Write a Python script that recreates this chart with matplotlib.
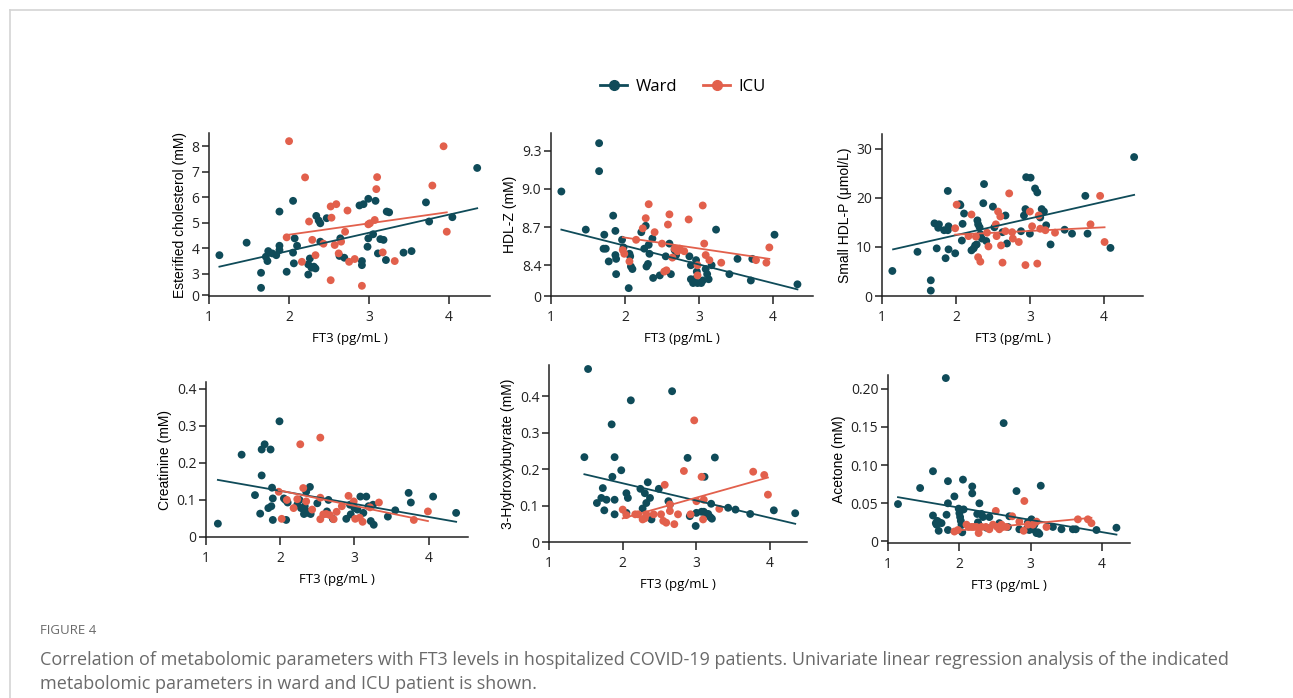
import numpy as np
import matplotlib

matplotlib.use("Agg")
import matplotlib.pyplot as plt
from matplotlib.lines import Line2D

W, H = 1293, 698
WARD_COLOR = "#0f4b59"
ICU_COLOR = "#e2604c"
TICK_FONT = "Open Sans"
LABEL_FONT = "Liberation Sans"

# ---- Esterified cholesterol (mM) ----
ec_ward_x = [1.13, 1.47, 1.65, 1.65, 1.71, 1.73, 1.74, 1.79, 1.84, 1.88, 1.88, 1.88, 1.97, 2.05, 2.05,
             2.06, 2.07, 2.10, 2.24, 2.24, 2.26, 2.28, 2.31, 2.33, 2.34, 2.37, 2.39, 2.39, 2.47, 2.63,
             2.64, 2.69, 2.88, 2.93, 2.99, 2.91, 2.91, 2.98, 2.99, 3.05, 3.08, 3.11, 3.14, 3.18, 3.21,
             3.22, 3.25, 3.43, 3.53, 3.71, 3.75, 4.04, 4.35]
ec_ward_y = [3.73, 4.22, 3.04, 2.45, 3.67, 3.50, 3.89, 3.80, 3.73, 5.44, 4.10, 3.93, 3.08, 5.86, 3.83,
             3.41, 4.39, 4.10, 3.37, 2.97, 3.60, 3.24, 3.28, 3.21, 5.27, 5.09, 4.98, 4.26, 5.18, 3.70,
             4.39, 3.63, 5.68, 5.73, 5.94, 3.50, 3.34, 4.06, 4.39, 4.55, 5.86, 3.80, 4.36, 4.33, 3.54,
             5.44, 5.41, 3.83, 3.89, 5.80, 5.05, 5.22, 7.15]
ec_icu_x = [1.97, 2.00, 2.16, 2.20, 2.25, 2.29, 2.33, 2.43, 2.52, 2.52, 2.53, 2.57, 2.59, 2.62, 2.65,
            2.70, 2.73, 2.75, 2.82, 2.91, 2.99, 3.01, 3.07, 3.09, 3.10, 3.17, 3.32, 3.79, 3.93, 3.97]
ec_icu_y = [4.43, 8.20, 3.47, 6.78, 5.05, 4.33, 3.73, 4.18, 2.75, 5.64, 5.20, 4.13, 5.73, 3.80, 4.26,
            4.65, 5.48, 3.47, 3.58, 2.53, 4.94, 4.98, 5.11, 6.32, 6.79, 3.84, 3.50, 6.46, 8.00, 4.65]
ec_ward_fit = ([1.13, 4.35], [3.28, 5.57])
ec_icu_fit = ([1.97, 3.97], [4.52, 5.41])

# ---- HDL-Z (mM) ----
hz_ward_x = [1.14, 1.47, 1.65, 1.65, 1.72, 1.71, 1.74, 1.78, 1.84, 1.87, 1.87, 1.88, 1.88, 1.96, 1.98,
             2.05, 2.06, 2.07, 2.08, 2.10, 2.22, 2.26, 2.28, 2.29, 2.31, 2.32, 2.33, 2.37, 2.38, 2.47,
             2.55, 2.60, 2.62, 2.67, 2.69, 2.87, 2.89, 2.89, 2.92, 2.94, 2.96, 2.97, 2.98, 3.03, 3.05,
             3.09, 3.11, 3.13, 3.17, 3.23, 3.41, 3.52, 3.70, 3.72, 4.02, 4.33]
hz_ward_y = [8.98, 8.68, 9.36, 9.14, 8.64, 8.53, 8.53, 8.43, 8.79, 8.67, 8.48, 8.45, 8.33, 8.60, 8.54,
             8.22, 8.49, 8.47, 8.39, 8.37, 8.66, 8.53, 8.71, 8.39, 8.41, 8.56, 8.49, 8.61, 8.30, 8.32,
             8.47, 8.57, 8.33, 8.52, 8.48, 8.47, 8.40, 8.29, 8.26, 8.29, 8.44, 8.35, 8.26, 8.26, 8.28,
             8.37, 8.33, 8.29, 8.40, 8.68, 8.33, 8.45, 8.28, 8.45, 8.64, 8.25]
hz_icu_x = [1.97, 1.99, 2.06, 2.15, 2.24, 2.28, 2.32, 2.40, 2.50, 2.53, 2.56, 2.58, 2.60, 2.64, 2.67,
            2.71, 2.74, 2.80, 2.86, 2.98, 2.98, 3.05, 3.07, 3.09, 3.14, 3.30, 3.77, 3.91, 3.95]
hz_icu_y = [8.52, 8.49, 8.43, 8.60, 8.69, 8.77, 8.88, 8.66, 8.57, 8.35, 8.36, 8.72, 8.80, 8.46, 8.53,
            8.51, 8.53, 8.51, 8.76, 8.32, 8.40, 8.87, 8.57, 8.48, 8.44, 8.42, 8.44, 8.42, 8.54]
hz_ward_fit = ([1.14, 4.33], [8.68, 8.21])
hz_icu_fit = ([1.97, 3.95], [8.62, 8.45])

# ---- Small HDL-P (umol/L) ----
sh_ward_x = [1.14, 1.48, 1.66, 1.66, 1.71, 1.74, 1.76, 1.77, 1.84, 1.86, 1.89, 1.89, 1.90, 1.90, 1.99,
             2.05, 2.06, 2.08, 2.09, 2.11, 2.21, 2.24, 2.26, 2.28, 2.29, 2.30, 2.32, 2.33, 2.35, 2.37,
             2.38, 2.41, 2.50, 2.52, 2.63, 2.67, 2.69, 2.88, 2.92, 2.94, 2.95, 3.00, 3.01, 3.07, 3.10,
             3.14, 3.16, 3.19, 3.22, 3.28, 3.47, 3.57, 3.75, 3.78, 4.09, 4.41]
sh_ward_y = [5.1, 9.0, 3.2, 1.1, 14.8, 9.7, 13.9, 14.6, 13.4, 7.7, 21.4, 13.4, 14.2, 9.5, 8.7,
             18.7, 18.5, 11.3, 14.7, 16.8, 9.3, 9.7, 10.3, 10.5, 15.4, 14.6, 14.0, 12.6, 11.7, 18.9,
             22.8, 11.2, 18.2, 14.0, 13.0, 16.4, 10.7, 13.2, 16.4, 17.7, 24.2, 12.7, 24.1, 21.9, 21.1,
             16.0, 17.7, 17.2, 14.4, 10.5, 13.5, 12.7, 20.4, 12.7, 9.8, 28.3]
sh_icu_x = [1.99, 2.01, 2.17, 2.21, 2.27, 2.30, 2.33, 2.42, 2.44, 2.54, 2.55, 2.57, 2.60, 2.61, 2.63,
            2.67, 2.72, 2.76, 2.77, 2.85, 2.94, 3.00, 3.03, 3.10, 3.12, 3.14, 3.21, 3.34, 3.82, 3.95, 4.01]
sh_icu_y = [13.8, 18.6, 12.2, 16.6, 12.1, 7.9, 7.0, 12.9, 10.1, 14.6, 12.2, 17.2, 16.2, 10.3, 6.8,
            13.2, 20.9, 13.0, 11.7, 11.0, 6.3, 17.2, 14.2, 6.6, 16.4, 13.7, 13.4, 12.9, 14.6, 20.4, 11.0]
sh_ward_fit = ([1.15, 4.41], [9.5, 20.6])
sh_icu_fit = ([1.99, 4.01], [12.5, 14.0])

# ---- Creatinine (mM) ----
cr_ward_x = [1.16, 1.48, 1.66, 1.73, 1.75, 1.75, 1.79, 1.87, 1.89, 1.90, 1.90, 1.84, 1.88, 1.99, 2.05,
             2.07, 2.08, 2.10, 2.23, 2.26, 2.28, 2.32, 2.33, 2.35, 2.36, 2.38, 2.40, 2.41, 2.50, 2.63,
             2.65, 2.71, 2.89, 2.94, 2.95, 3.00, 3.04, 3.08, 3.12, 3.16, 3.19, 3.22, 3.26, 3.25, 3.45,
             3.55, 3.73, 3.76, 4.06, 4.37]
cr_ward_y = [0.036, 0.222, 0.113, 0.063, 0.236, 0.166, 0.250, 0.236, 0.133, 0.104, 0.046, 0.078, 0.083,
             0.312, 0.104, 0.100, 0.046, 0.093, 0.087, 0.100, 0.078, 0.062, 0.083, 0.122, 0.069, 0.065,
             0.135, 0.062, 0.091, 0.069, 0.100, 0.049, 0.049, 0.087, 0.061, 0.078, 0.074, 0.109, 0.065,
             0.109, 0.083, 0.043, 0.033, 0.087, 0.055, 0.072, 0.119, 0.093, 0.109, 0.065]
cr_icu_x = [1.98, 2.02, 2.09, 2.18, 2.23, 2.31, 2.35, 2.43, 2.54, 2.54, 2.58, 2.62, 2.67, 2.72, 2.76,
            2.83, 2.92, 2.99, 3.01, 3.07, 3.11, 3.21, 3.33, 3.80, 3.99, 2.27, 2.54]
cr_icu_y = [0.122, 0.049, 0.100, 0.078, 0.102, 0.132, 0.096, 0.074, 0.106, 0.048, 0.061, 0.062, 0.059,
            0.048, 0.068, 0.083, 0.111, 0.096, 0.049, 0.052, 0.041, 0.080, 0.093, 0.046, 0.069, 0.250, 0.268]
cr_ward_fit = ([1.16, 4.37], [0.154, 0.041])
cr_icu_fit = ([1.98, 3.99], [0.126, 0.043])

# ---- 3-Hydroxybutyrate (mM) ----
hb_ward_x = [1.48, 1.53, 1.65, 1.71, 1.73, 1.75, 1.78, 1.85, 1.86, 1.89, 1.89, 1.89, 1.98, 2.05, 2.07,
             2.05, 2.11, 2.24, 2.27, 2.30, 2.32, 2.34, 2.37, 2.39, 2.49, 2.62, 2.64, 2.67, 2.88, 2.91,
             2.99, 3.00, 3.07, 3.10, 3.11, 3.13, 3.16, 3.19, 3.21, 3.20, 3.25, 3.43, 3.53, 3.73, 4.05, 4.34]
hb_ward_y = [0.233, 0.475, 0.107, 0.121, 0.148, 0.087, 0.116, 0.323, 0.179, 0.233, 0.116, 0.076, 0.197,
             0.134, 0.121, 0.080, 0.389, 0.146, 0.092, 0.134, 0.107, 0.164, 0.121, 0.062, 0.146, 0.112,
             0.103, 0.414, 0.231, 0.071, 0.044, 0.080, 0.083, 0.083, 0.179, 0.077, 0.077, 0.068, 0.064,
             0.105, 0.232, 0.094, 0.089, 0.077, 0.087, 0.079]
hb_icu_x = [2.00, 2.05, 2.17, 2.21, 2.27, 2.30, 2.32, 2.42, 2.52, 2.55, 2.57, 2.59, 2.64, 2.64, 2.70,
            2.75, 2.83, 2.92, 2.97, 3.00, 3.07, 3.09, 3.10, 3.31, 3.77, 3.92, 3.97]
hb_icu_y = [0.089, 0.074, 0.076, 0.076, 0.062, 0.065, 0.076, 0.076, 0.076, 0.058, 0.157, 0.053, 0.103,
            0.085, 0.049, 0.076, 0.195, 0.076, 0.334, 0.112, 0.179, 0.062, 0.116, 0.091, 0.193, 0.184, 0.130]
hb_ward_fit = ([1.48, 4.34], [0.186, 0.050])
hb_icu_fit = ([2.00, 3.97], [0.065, 0.177])

# ---- Acetone (mM) ----
ac_ward_x = [1.14, 1.45, 1.63, 1.63, 1.67, 1.68, 1.69, 1.71, 1.72, 1.75, 1.81, 1.82, 1.84, 1.84, 1.84,
             1.93, 1.99, 2.00, 2.01, 2.02, 2.03, 2.04, 2.05, 2.06, 2.18, 2.18, 2.25, 2.26, 2.27, 2.28,
             2.31, 2.33, 2.38, 2.42, 2.56, 2.57, 2.62, 2.68, 2.70, 2.80, 2.84, 2.94, 2.96, 2.98, 3.01,
             3.03, 3.05, 3.08, 3.10, 3.12, 3.14, 3.31, 3.43, 3.59, 3.63, 3.92, 4.20]
ac_ward_y = [0.049, 0.070, 0.092, 0.034, 0.024, 0.022, 0.027, 0.014, 0.025, 0.024, 0.214, 0.035, 0.079,
             0.050, 0.015, 0.059, 0.043, 0.037, 0.032, 0.027, 0.022, 0.012, 0.081, 0.042, 0.072, 0.063,
             0.036, 0.025, 0.022, 0.050, 0.036, 0.032, 0.018, 0.032, 0.024, 0.019, 0.155, 0.019, 0.033,
             0.066, 0.016, 0.016, 0.025, 0.015, 0.029, 0.016, 0.022, 0.011, 0.012, 0.010, 0.073, 0.019,
             0.016, 0.016, 0.016, 0.015, 0.018]
ac_icu_x = [1.93, 1.98, 2.10, 2.13, 2.17, 2.20, 2.24, 2.27, 2.31, 2.37, 2.42, 2.47, 2.51, 2.53, 2.56,
            2.59, 2.61, 2.66, 2.74, 2.84, 2.90, 2.91, 2.96, 3.03, 3.08, 3.22, 3.66, 3.80, 3.85]
ac_icu_y = [0.013, 0.015, 0.022, 0.019, 0.019, 0.019, 0.019, 0.011, 0.019, 0.019, 0.016, 0.022, 0.040,
            0.019, 0.016, 0.022, 0.019, 0.019, 0.033, 0.026, 0.014, 0.053, 0.022, 0.022, 0.026, 0.019,
            0.029, 0.029, 0.024]
ac_ward_fit = ([1.14, 4.20], [0.058, 0.009])
ac_icu_fit = ([1.93, 3.85], [0.014, 0.031])

y_labels = ["Esterified cholesterol (mM)", "HDL-Z (mM)", "Small HDL-P (\u03bcmol/L)",
            "Creatinine (mM)", "3-Hydroxybutyrate (mM)", "Acetone (mM)"]
x_label = "FT3 (pg/mL )"
x_ticks = [1, 2, 3, 4]

# broken axes (GraphPad style): bottom tick shown as "0"
ec_yticks = [2.15, 3, 4, 5, 6, 7, 8]
ec_yticklabels = ["0", "3", "4", "5", "6", "7", "8"]
hz_yticks = [8.158, 8.4, 8.7, 9.0, 9.3]
hz_yticklabels = ["0", "8.4", "8.7", "9.0", "9.3"]
sh_yticks = [0, 10, 20, 30]
cr_yticks = [0, 0.1, 0.2, 0.3, 0.4]
hb_yticks = [0, 0.1, 0.2, 0.3, 0.4]
ac_yticks = [0, 0.05, 0.10, 0.15, 0.20]
ac_yticklabels = ["0", "0.05", "0.10", "0.15", "0.20"]


def px_box(left, top, right, bottom):
    return [left / W, 1 - bottom / H, (right - left) / W, (bottom - top) / H]


panels = [
    dict(box=px_box(209, 133, 490, 296), xmax=4.51, ylim=(2.13, 8.52),
         ward=(ec_ward_x, ec_ward_y, ec_ward_fit), icu=(ec_icu_x, ec_icu_y, ec_icu_fit),
         yticks=ec_yticks, yticklabels=ec_yticklabels, ylabel=y_labels[0]),
    dict(box=px_box(551, 133, 813, 296), xmax=4.54, ylim=(8.158, 9.44),
         ward=(hz_ward_x, hz_ward_y, hz_ward_fit), icu=(hz_icu_x, hz_icu_y, hz_icu_fit),
         yticks=hz_yticks, yticklabels=hz_yticklabels, ylabel=y_labels[1]),
    dict(box=px_box(882, 134, 1143, 296), xmax=4.53, ylim=(0, 33),
         ward=(sh_ward_x, sh_ward_y, sh_ward_fit), icu=(sh_icu_x, sh_icu_y, sh_icu_fit),
         yticks=sh_yticks, yticklabels=[str(t) for t in sh_yticks], ylabel=y_labels[2]),
    dict(box=px_box(206, 382, 468, 537), xmax=4.53, ylim=(0.005, 0.418),
         ward=(cr_ward_x, cr_ward_y, cr_ward_fit), icu=(cr_icu_x, cr_icu_y, cr_icu_fit),
         yticks=cr_yticks, yticklabels=["0", "0.1", "0.2", "0.3", "0.4"], ylabel=y_labels[3]),
    dict(box=px_box(549, 365, 807, 542), xmax=4.5, ylim=(0.005, 0.486),
         ward=(hb_ward_x, hb_ward_y, hb_ward_fit), icu=(hb_icu_x, hb_icu_y, hb_icu_fit),
         yticks=hb_yticks, yticklabels=["0", "0.1", "0.2", "0.3", "0.4"], ylabel=y_labels[4]),
    dict(box=px_box(888, 375, 1130, 543), xmax=4.39, ylim=(-0.002, 0.218),
         ward=(ac_ward_x, ac_ward_y, ac_ward_fit), icu=(ac_icu_x, ac_icu_y, ac_icu_fit),
         yticks=ac_yticks, yticklabels=ac_yticklabels, ylabel=y_labels[5]),
]

fig = plt.figure(figsize=(W / 100, H / 100), dpi=100)

for p in panels:
    ax = fig.add_axes(p["box"])
    for (xs, ys, fit), color in ((p["ward"], WARD_COLOR), (p["icu"], ICU_COLOR)):
        ax.scatter(xs, ys, s=32, color=color, edgecolors="none", zorder=3, clip_on=False)
    for (xs, ys, fit), color in ((p["ward"], WARD_COLOR), (p["icu"], ICU_COLOR)):
        ax.plot(fit[0], fit[1], color=color, linewidth=1.3, zorder=4)

    ax.set_xlim(1, p["xmax"])
    ax.set_ylim(*p["ylim"])
    ax.set_xticks(x_ticks)
    ax.set_xticklabels([str(t) for t in x_ticks], fontsize=10, family=TICK_FONT)
    ax.set_yticks(p["yticks"])
    ax.set_yticklabels(p["yticklabels"], fontsize=10, family=TICK_FONT)
    ax.set_xlabel(x_label, fontsize=9.5, family=TICK_FONT, labelpad=5)
    ax.set_ylabel(p["ylabel"], fontsize=10, family=LABEL_FONT, labelpad=3)

    for side in ("top", "right"):
        ax.spines[side].set_visible(False)
    for side in ("left", "bottom"):
        ax.spines[side].set_linewidth(1.1)
        ax.spines[side].set_color("#222222")
    ax.tick_params(axis="x", direction="out", length=6, width=1.1, pad=4, colors="#222222")
    ax.tick_params(axis="y", direction="out", length=5, width=1.1, pad=2, colors="#222222")
    ax.patch.set_alpha(0)

# legend
handles = [
    Line2D([], [], color=WARD_COLOR, marker="o", markersize=7, linewidth=2),
    Line2D([], [], color=ICU_COLOR, marker="o", markersize=7, linewidth=2),
]
fig.legend(handles, ["Ward", "ICU"], loc="center", bbox_to_anchor=(683 / W, 1 - 87 / H),
           ncol=2, frameon=False, handlelength=1.6, columnspacing=1.6, handletextpad=0.5,
           prop={"family": TICK_FONT, "size": 12})

# card border
fig.add_artist(Line2D([10 / W, 1], [1 - 10 / H, 1 - 10 / H], transform=fig.transFigure,
                      color="#d4d4d4", linewidth=1.2))
fig.add_artist(Line2D([10 / W, 10 / W], [0, 1 - 10 / H], transform=fig.transFigure,
                      color="#d4d4d4", linewidth=1.2))

# caption
fig.text(40 / W, 1 - 630 / H, "FIGURE 4", fontsize=9.5, color="#6a6a6a", family=TICK_FONT,
         va="center", ha="left")
fig.text(40 / W, 1 - 660 / H,
         "Correlation of metabolomic parameters with FT3 levels in hospitalized COVID-19 patients. "
         "Univariate linear regression analysis of the indicated",
         fontsize=13.0, color="#6a6a6a", family=TICK_FONT, va="center", ha="left")
fig.text(40 / W, 1 - 684 / H, "metabolomic parameters in ward and ICU patient is shown.",
         fontsize=13.0, color="#6a6a6a", family=TICK_FONT, va="center", ha="left")

fig.savefig("out.png", dpi=100)
